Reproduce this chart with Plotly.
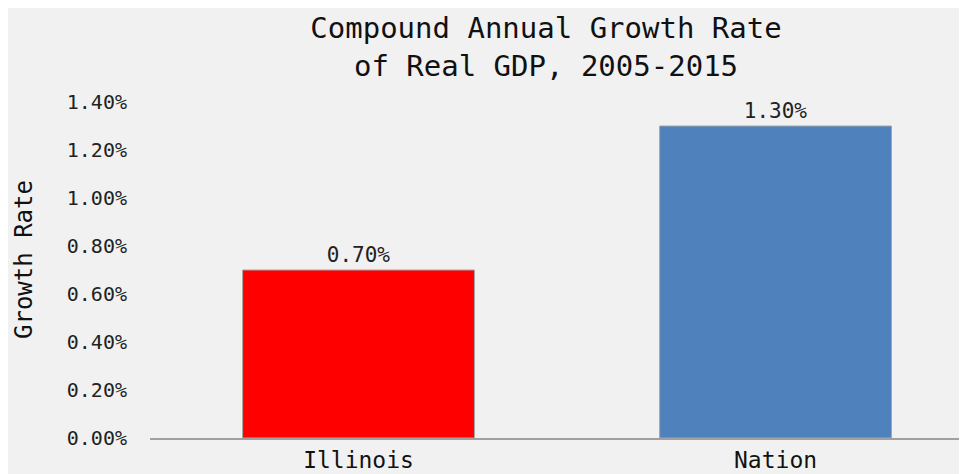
import plotly.graph_objects as go

categories = ["Illinois", "Nation"]
values = [0.70, 1.30]
value_labels = ["0.70%", "1.30%"]
bar_colors = ["#ff0000", "#4f81bd"]
tick_vals = [0.0, 0.2, 0.4, 0.6, 0.8, 1.0, 1.2, 1.4]
tick_text = ["0.00%", "0.20%", "0.40%", "0.60%", "0.80%", "1.00%", "1.20%", "1.40%"]
title_text = "Compound Annual Growth Rate<br>of Real GDP, 2005-2015"
y_title = "Growth Rate"

FONT = "DejaVu Sans Mono"
bg = "#f1f1f1"

# The page body adds an 8px offset; the figure is sized to fill the window.
W, H = 959, 466
ML, MR, MT, MB = 142, 0, 94, 36

fig = go.Figure(
    go.Bar(
        x=categories,
        y=values,
        text=value_labels,
        textposition="outside",
        textfont=dict(family=FONT, size=21, color="#222222"),
        marker=dict(color=bar_colors, line=dict(color="#a6a6a6", width=1)),
        width=0.556,
        cliponaxis=False,
    )
)

plot_w = W - ML - MR
plot_h = H - MT - MB


def px_to_paper_x(px):  # window pixel -> paper x
    return (px - 8 - ML) / plot_w


def py_to_paper_y(py):  # window pixel -> paper y
    return 1 - (py - 8 - MT) / plot_h


annotations = [
    dict(text=y_title, textangle=-90, x=px_to_paper_x(24), y=py_to_paper_y(260),
         xref="paper", yref="paper", showarrow=False, xanchor="center", yanchor="middle",
         font=dict(family=FONT, size=24, color="#111111")),
]

fig.update_layout(
    width=W,
    height=H,
    paper_bgcolor=bg,
    plot_bgcolor=bg,
    margin=dict(l=ML, r=MR, t=MT, b=MB, autoexpand=False),
    showlegend=False,
    annotations=annotations,
    title=dict(
        text=title_text,
        x=(546 - 8) / W,
        xanchor="center",
        xref="container",
        y=1 - (38 - 8) / H,
        yref="container",
        yanchor="middle",
        font=dict(family=FONT, size=29, color="#111111"),
    ),
    xaxis=dict(
        range=[-0.5, 1.459],
        showgrid=False,
        showline=True,
        linecolor="#a0a0a0",
        linewidth=1.5,
        ticks="",
        ticklabelstandoff=1,
        tickfont=dict(family=FONT, size=23, color="#111111"),
    ),
    yaxis=dict(
        range=[0, 1.4],
        tickvals=tick_vals,
        ticktext=tick_text,
        showgrid=False,
        zeroline=False,
        showline=False,
        ticks="",
        ticklabelstandoff=22,
        tickfont=dict(family=FONT, size=20, color="#222222"),
    ),
)

fig.write_html("out.html")
